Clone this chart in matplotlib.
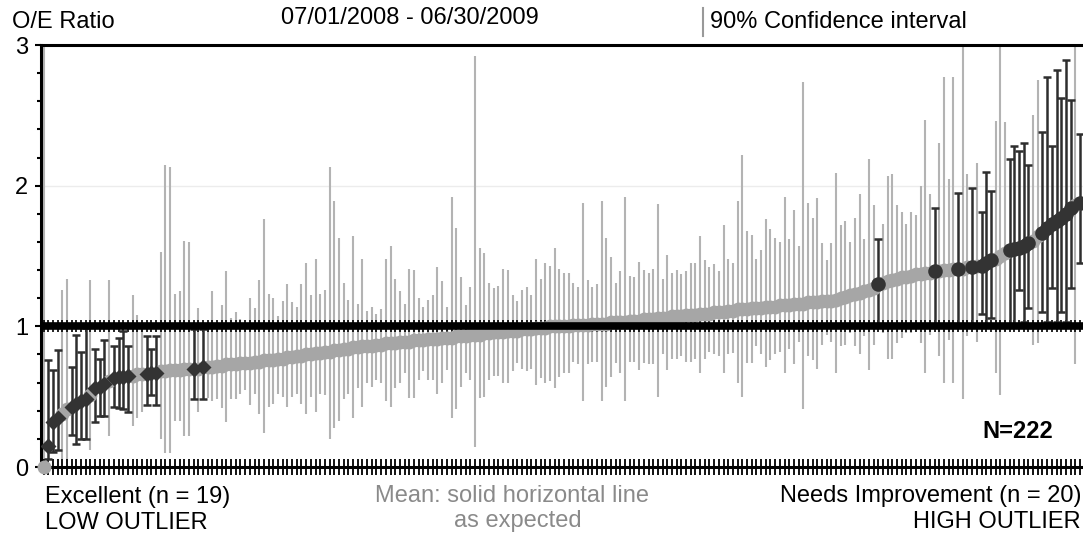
import matplotlib
matplotlib.use('Agg')
import matplotlib.pyplot as plt
from matplotlib.lines import Line2D
from matplotlib.ticker import MultipleLocator
import numpy as np

plt.rcParams['font.family'] = ['Liberation Sans', 'DejaVu Sans']

# O/E ratio per hospital, sorted ascending
oe_ratio = [
    0.00, 0.15, 0.32, 0.35, 0.38, 0.41, 0.43, 0.45, 0.47, 0.48,
    0.51, 0.56, 0.57, 0.59, 0.61, 0.63, 0.64, 0.64, 0.65, 0.65,
    0.66, 0.66, 0.66, 0.67, 0.67, 0.68, 0.68, 0.69, 0.69, 0.69,
    0.70, 0.70, 0.70, 0.70, 0.71, 0.71, 0.71, 0.72, 0.72, 0.73,
    0.73, 0.73, 0.74, 0.74, 0.74, 0.75, 0.75, 0.76, 0.76, 0.76,
    0.77, 0.77, 0.78, 0.78, 0.79, 0.79, 0.80, 0.80, 0.81, 0.81,
    0.82, 0.82, 0.83, 0.83, 0.84, 0.84, 0.85, 0.85, 0.86, 0.86,
    0.86, 0.87, 0.87, 0.88, 0.88, 0.88, 0.89, 0.89, 0.89, 0.90,
    0.90, 0.90, 0.91, 0.91, 0.91, 0.92, 0.92, 0.92, 0.93, 0.93,
    0.93, 0.94, 0.94, 0.94, 0.95, 0.95, 0.96, 0.96, 0.96, 0.97,
    0.97, 0.97, 0.98, 0.98, 0.98, 0.99, 0.99, 0.99, 1.00, 1.00,
    1.00, 1.00, 1.00, 1.01, 1.01, 1.01, 1.01, 1.02, 1.02, 1.02,
    1.02, 1.03, 1.03, 1.03, 1.03, 1.04, 1.04, 1.04, 1.05, 1.05,
    1.05, 1.06, 1.06, 1.06, 1.07, 1.07, 1.07, 1.08, 1.08, 1.08,
    1.09, 1.09, 1.09, 1.10, 1.10, 1.10, 1.11, 1.11, 1.12, 1.12,
    1.12, 1.13, 1.13, 1.13, 1.14, 1.14, 1.14, 1.15, 1.15, 1.15,
    1.16, 1.16, 1.16, 1.17, 1.17, 1.17, 1.18, 1.18, 1.18, 1.19,
    1.20, 1.21, 1.22, 1.23, 1.24, 1.25, 1.26, 1.27, 1.30, 1.31,
    1.32, 1.33, 1.34, 1.35, 1.35, 1.36, 1.37, 1.37, 1.38, 1.38,
    1.39, 1.39, 1.40, 1.40, 1.41, 1.41, 1.41, 1.42, 1.42, 1.43,
    1.43, 1.45, 1.47, 1.48, 1.50, 1.52, 1.54, 1.55, 1.56, 1.57,
    1.59, 1.61, 1.64, 1.66, 1.70, 1.73, 1.75, 1.77, 1.80, 1.84,
    1.86, 1.88,
]

# 90% confidence interval, lower and upper bounds
ci_low = [
    0.00, 0.06, 0.11, 0.12, 0.06, 0.05, 0.23, 0.16, 0.20, 0.20,
    0.12, 0.32, 0.36, 0.36, 0.22, 0.43, 0.42, 0.41, 0.39, 0.29,
    0.35, 0.39, 0.44, 0.51, 0.44, 0.20, 0.10, 0.10, 0.33, 0.33,
    0.22, 0.22, 0.48, 0.39, 0.48, 0.49, 0.47, 0.48, 0.42, 0.32,
    0.48, 0.48, 0.52, 0.55, 0.44, 0.52, 0.38, 0.24, 0.43, 0.45,
    0.52, 0.50, 0.43, 0.50, 0.52, 0.45, 0.38, 0.50, 0.39, 0.52,
    0.51, 0.20, 0.28, 0.33, 0.48, 0.52, 0.35, 0.56, 0.43, 0.60,
    0.57, 0.62, 0.60, 0.47, 0.43, 0.56, 0.60, 0.67, 0.49, 0.49,
    0.62, 0.68, 0.62, 0.62, 0.52, 0.60, 0.69, 0.35, 0.41, 0.57,
    0.67, 0.62, 0.14, 0.49, 0.50, 0.62, 0.65, 0.65, 0.60, 0.60,
    0.68, 0.74, 0.70, 0.68, 0.70, 0.58, 0.63, 0.60, 0.61, 0.56,
    0.64, 0.67, 0.67, 0.75, 0.73, 0.47, 0.73, 0.75, 0.75, 0.47,
    0.57, 0.64, 0.74, 0.67, 0.47, 0.75, 0.75, 0.69, 0.74, 0.73,
    0.73, 0.50, 0.80, 0.69, 0.77, 0.77, 0.79, 0.75, 0.75, 0.77,
    0.67, 0.77, 0.82, 0.80, 0.79, 0.67, 0.80, 0.81, 0.60, 0.50,
    0.74, 0.74, 0.86, 0.80, 0.71, 0.76, 0.80, 0.82, 0.67, 0.84,
    0.73, 0.89, 0.41, 0.79, 0.76, 0.70, 0.87, 0.94, 0.89, 0.67,
    0.86, 0.87, 0.95, 0.86, 0.80, 0.93, 0.69, 0.87, 1.00, 0.95,
    0.77, 0.77, 0.88, 0.92, 0.95, 0.95, 0.98, 0.88, 0.67, 0.94,
    1.00, 0.79, 0.60, 0.90, 0.60, 1.00, 0.48, 0.93, 1.00, 0.89,
    1.09, 1.01, 1.06, 0.67, 0.51, 0.97, 1.02, 1.02, 1.26, 1.03,
    1.13, 0.87, 0.88, 1.10, 1.03, 1.27, 1.03, 1.10, 1.03, 1.27,
    0.73, 1.45,
]
ci_high = [
    3.20, 0.76, 0.69, 0.83, 1.26, 1.34, 0.71, 0.94, 0.82, 0.99,
    1.33, 0.84, 0.77, 0.90, 1.33, 0.86, 0.92, 0.97, 0.86, 1.22,
    1.08, 0.98, 0.93, 0.84, 0.93, 1.53, 2.15, 2.13, 1.23, 1.25,
    1.61, 1.60, 0.98, 1.13, 0.98, 1.02, 1.25, 1.02, 1.15, 1.39,
    1.06, 1.10, 1.05, 1.02, 1.20, 1.13, 1.33, 1.76, 1.23, 1.20,
    1.07, 1.18, 1.30, 1.17, 1.14, 1.30, 1.45, 1.22, 1.48, 1.23,
    1.26, 2.13, 1.89, 1.63, 1.31, 1.19, 1.64, 1.16, 1.48, 1.11,
    1.14, 1.09, 1.12, 1.48, 1.57, 1.34, 1.25, 1.16, 1.41, 1.40,
    1.20, 1.14, 1.19, 1.22, 1.42, 1.32, 1.14, 1.92, 1.70, 1.35,
    1.15, 1.28, 2.92, 1.56, 1.52, 1.31, 1.27, 1.29, 1.41, 1.40,
    1.22, 1.18, 1.26, 1.28, 1.22, 1.48, 1.34, 1.45, 1.43, 1.56,
    1.41, 1.38, 1.38, 1.31, 1.28, 1.88, 1.33, 1.28, 1.30, 1.89,
    1.63, 1.49, 1.31, 1.39, 1.92, 1.36, 1.35, 1.46, 1.40, 1.38,
    1.41, 1.87, 1.34, 1.51, 1.38, 1.40, 1.37, 1.39, 1.45, 1.45,
    1.64, 1.47, 1.42, 1.44, 1.39, 1.72, 1.48, 1.45, 1.89, 2.22,
    1.68, 1.65, 1.48, 1.54, 1.76, 1.69, 1.63, 1.60, 1.92, 1.62,
    1.83, 1.57, 2.74, 1.88, 1.77, 1.91, 1.59, 1.47, 1.59, 2.09,
    1.72, 1.75, 1.60, 1.77, 1.94, 1.62, 2.19, 1.86, 1.62, 1.73,
    2.07, 2.08, 1.86, 1.81, 1.73, 1.81, 1.79, 2.00, 2.47, 1.94,
    1.84, 2.30, 2.77, 2.05, 2.77, 1.95, 3.20, 2.08, 1.98, 2.16,
    1.81, 2.10, 1.96, 2.46, 3.20, 2.45, 2.19, 2.28, 2.25, 2.30,
    2.15, 2.50, 2.75, 2.38, 2.77, 2.28, 2.82, 2.62, 2.89, 2.61,
    3.20, 2.37,
]

# positions (in sorted order) flagged as outliers
low_outliers = [1, 2, 3, 6, 7, 8, 9, 11, 12, 13, 15, 16, 17, 18, 22, 23, 24, 32, 34]
high_outliers = [178, 190, 195, 198, 200, 201, 202, 206, 207, 208, 209, 210,
                 213, 214, 215, 216, 217, 218, 219, 221]
expected = 1.0

W, H = 1083, 535
fig = plt.figure(figsize=(W / 100, H / 100), dpi=100)
ax = fig.add_axes([40.5 / W, 1 - 467 / H, 1 - 40.5 / W, (467 - 45) / H])

oe = np.array(oe_ratio)
lo = np.array(ci_low)
hi = np.array(ci_high)
x = np.arange(len(oe))
out = np.zeros(len(oe), dtype=bool)
out[low_outliers] = True
out[high_outliers] = True
grey = ~out

ax.axhline(2, color='#ececec', lw=1, zorder=0)

# confidence intervals of the non-outliers
ax.vlines(x[grey], lo[grey], hi[grey], color='#b3b3b3', lw=1.5, zorder=1)
ax.plot(x, np.full(len(x), expected), ls='none', marker='|', ms=9, mew=1.2,
        color='black', zorder=2)

# outliers with capped error bars
ax.errorbar(x[out], oe[out], yerr=[oe[out] - lo[out], hi[out] - oe[out]],
            fmt='none', ecolor='#2e2e2e', elinewidth=1.8, capsize=3.2,
            capthick=1.8, zorder=3)
ax.plot(x[grey], oe[grey], 'o', color='#a6a6a6', ms=10, mec='none',
        zorder=4, clip_on=False)
ax.axhline(expected, color='black', lw=5.5, zorder=5)
ax.plot(x[low_outliers], oe[low_outliers], 'D', color='#333333', ms=8.5,
        mec='none', zorder=6)
ax.plot(x[high_outliers], oe[high_outliers], 'o', color='#333333', ms=10.5,
        mec='none', zorder=6)

ax.set_xlim(-0.64, 221.64)
ax.set_ylim(0, 3)
ax.set_xticks(x)
ax.set_xticklabels([])
ax.tick_params(axis='x', direction='inout', length=12, width=1.3, color='black')
ax.set_yticks([0, 1, 2, 3])
ax.yaxis.set_minor_locator(MultipleLocator(0.2))
ax.tick_params(axis='y', which='major', length=4, width=1.5, labelsize=17, pad=5)
ax.tick_params(axis='y', which='minor', length=3, width=1.5)
for side in ['left', 'top', 'bottom']:
    ax.spines[side].set_linewidth(2.2)
ax.spines['right'].set_visible(False)

fs = 17
fig.text(12 / W, 1 - 22 / H, 'O/E Ratio', fontsize=fs, va='center')
fig.text(410 / W, 1 - 18 / H, '07/01/2008 - 06/30/2009', fontsize=fs,
         ha='center', va='center')
fig.add_artist(Line2D([703 / W] * 2, [1 - 8 / H, 1 - 36 / H], color='#999999', lw=1.5))
fig.text(710 / W, 1 - 22 / H, '90% Confidence interval', fontsize=fs, va='center')

fig.text(45 / W, 1 - 497 / H, 'Excellent (n = %d)' % len(low_outliers),
         fontsize=fs, va='center')
fig.text(45 / W, 1 - 523 / H, 'LOW OUTLIER', fontsize=fs, va='center')
fig.text(512 / W, 1 - 496 / H, 'Mean: solid horizontal line', fontsize=fs,
         color='#8a8a8a', ha='center', va='center')
fig.text(518 / W, 1 - 521 / H, 'as expected', fontsize=fs, color='#8a8a8a',
         ha='center', va='center')
fig.text(1081 / W, 1 - 496 / H, 'Needs Improvement (n = %d)' % len(high_outliers),
         fontsize=fs, ha='right', va='center')
fig.text(1081 / W, 1 - 522 / H, 'HIGH OUTLIER', fontsize=fs, ha='right', va='center')
fig.text(1053 / W, 1 - 432 / H, 'N=%d' % len(oe), fontsize=fs, fontweight='bold',
         ha='right', va='center')

fig.savefig('out.png', dpi=100)
